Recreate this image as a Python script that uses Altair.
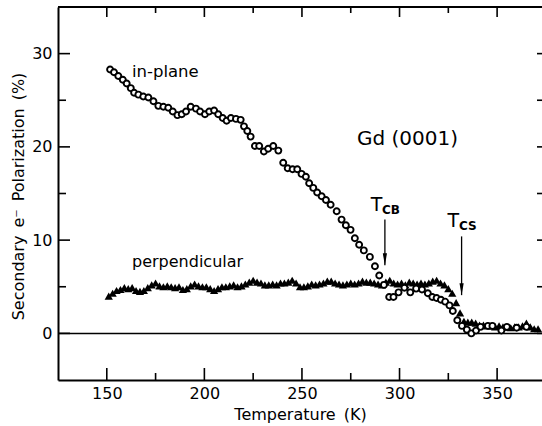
import altair as alt
import pandas as pd

# Secondary-electron polarization of Gd(0001), in-plane component (open circles)
inplane_temp = [151.7, 153.7, 155.9, 158.2, 160.2, 162.3, 164.0, 166.2, 168.7, 171.3,
                173.9, 176.4, 179.0, 181.5, 183.8, 186.2, 188.4, 190.6, 193.0, 195.7,
                197.8, 200.3, 202.5, 205.0, 207.1, 209.4, 211.4, 213.6, 216.2, 218.6,
                220.3, 222.0, 223.7, 225.9, 228.1, 230.5, 232.7, 235.3, 237.9, 240.4,
                242.7, 245.2, 247.6, 249.8, 252.0, 253.7, 255.8, 257.8, 260.1, 262.3,
                264.7, 267.8, 270.3, 272.5, 274.9, 277.1, 279.3, 281.7, 284.8, 287.4,
                289.6, 292.0, 294.7, 296.9, 299.5, 302.5, 305.5, 308.5, 311.5, 314.5,
                316.8, 319.0, 321.2, 323.4, 325.6, 327.3, 329.6, 332.0, 334.5, 336.8,
                339.2, 341.5, 345.3, 347.6, 352.2, 355.0, 360.0, 365.0]
inplane_pol = [28.3, 28.0, 27.6, 27.2, 26.8, 26.3, 25.8, 25.6, 25.4, 25.3,
               24.9, 24.4, 24.3, 24.2, 23.8, 23.4, 23.5, 23.8, 24.3, 24.1,
               23.8, 23.5, 23.8, 23.9, 23.5, 23.1, 22.8, 23.1, 23.0, 22.9,
               22.2, 21.7, 21.1, 20.1, 20.1, 19.5, 19.8, 20.1, 19.6, 18.3,
               17.7, 17.6, 17.6, 17.1, 16.8, 16.1, 15.6, 15.1, 14.7, 14.3,
               13.8, 13.1, 12.2, 11.6, 11.1, 10.2, 9.5, 8.9, 8.2, 7.2,
               6.2, 5.2, 3.9, 3.9, 4.4, 4.9, 4.4, 4.8, 4.7, 4.3,
               3.9, 3.8, 3.6, 3.4, 3.0, 2.4, 1.4, 0.8, 0.4, 0.0,
               0.3, 0.7, 0.8, 0.8, 0.3, 0.7, 0.6, 0.7]

# Perpendicular component (filled triangles)
perp_temp = [151, 153, 155, 157, 159, 161, 163, 165, 167, 169, 171, 173, 175, 177, 179,
             181, 183, 185, 187, 189, 191, 193, 195, 197, 199, 201, 203, 205, 207, 209,
             211, 213, 215, 217, 219, 221, 223, 225, 227, 229, 231, 233, 235, 237, 239,
             241, 243, 245, 247, 249, 251, 253, 255, 257, 259, 261, 263, 265, 267, 269,
             271, 273, 275, 277, 279, 281, 283, 285, 287, 289, 291, 293, 295, 297, 299,
             301, 303, 305, 307, 309, 311, 313, 315, 317, 319, 321, 323, 325, 327, 329,
             331, 333, 335, 337, 339, 341, 343, 345, 347, 349, 351, 353, 355, 357, 359,
             361, 363, 365, 367, 369, 371]
perp_pol = [4.0, 4.3, 4.6, 4.7, 4.9, 4.8, 4.9, 4.6, 4.5, 4.6, 4.9, 5.2, 5.4, 5.1, 5.0,
            5.1, 5.0, 4.9, 5.0, 4.7, 4.8, 5.1, 5.3, 5.1, 5.0, 5.0, 4.8, 4.6, 4.8, 5.0,
            5.0, 5.1, 5.2, 5.0, 5.1, 5.3, 5.5, 5.7, 5.5, 5.4, 5.2, 5.2, 5.3, 5.2, 5.4,
            5.4, 5.5, 5.7, 5.4, 5.0, 5.0, 5.1, 5.3, 5.2, 5.3, 5.4, 5.6, 5.6, 5.4, 5.3,
            5.2, 5.3, 5.4, 5.3, 5.4, 5.6, 5.5, 5.5, 5.4, 5.3, 5.2, 5.5, 5.7, 5.4, 5.3,
            5.4, 5.2, 5.5, 5.4, 5.3, 5.4, 5.3, 5.4, 5.6, 5.7, 5.4, 5.2, 4.8, 4.3, 3.3,
            2.2, 1.3, 1.2, 1.2, 1.1, 0.9, 0.9, 0.8, 0.8, 0.7, 0.8, 0.7, 0.7, 0.6, 0.7,
            0.7, 0.8, 1.1, 0.7, 0.5, 0.5]

# Axis ticks (drawn inward)
x_major = [150, 200, 250, 300, 350]
x_minor = [175, 225, 275, 325]
y_major = [0, 10, 20, 30]
y_minor = [5, 15, 25]

# Curie temperature markers: bulk (CB) and surface (CS)
tc_sub = ["CB", "CS"]
tc_temp = [292.5, 331.8]
tc_top = [12.2, 10.4]
tc_tip = [7.3, 4.1]
tc_T_temp = [288.2, 327.6]
tc_T_pol = [13.8, 12.1]
tc_sub_temp = [295.6, 335.0]
tc_sub_pol = [13.2, 11.5]

# Free text labels
note_text = ["in-plane", "perpendicular", "Gd (0001)"]
note_temp = [180.0, 191.4, 304.1]
note_pol = [28.05, 7.65, 20.8]
note_size = [16.5, 16, 20]

W, H = 484, 373
FONT = "DejaVu Sans"
SP = "\u2002"  # wide gap between words in the axis titles
xs = alt.Scale(domain=[125, 373], nice=False, zero=False)
ys = alt.Scale(domain=[-5, 35], nice=False, zero=False)

x_axis = alt.Axis(values=x_major, title=f"Temperature{SP}(K)", ticks=False, grid=False,
                  domainColor="black", domainWidth=2, labelPadding=5,
                  titleX=242, titleY=34, titleBaseline="middle", titleAlign="center")
y_axis = alt.Axis(values=y_major, title=f"Secondary{SP}e⁻{SP}Polarization{SP}(%)",
                  ticks=False, grid=False, domainColor="black", domainWidth=2,
                  labelPadding=6, titleX=-40, titleY=189, titleAngle=270,
                  titleAlign="center", titleBaseline="middle")


def X(field):
    return alt.X(field, type="quantitative", scale=xs, axis=x_axis)


def Y(field):
    return alt.Y(field, type="quantitative", scale=ys, axis=y_axis)


inplane = pd.DataFrame({"T": inplane_temp, "P": inplane_pol})
perp = pd.DataFrame({"T": perp_temp, "P": perp_pol})
tc = pd.DataFrame({"T": tc_temp, "top": tc_top, "tip": tc_tip, "sub": tc_sub,
                   "tT": tc_T_temp, "tP": tc_T_pol, "sT": tc_sub_temp, "sP": tc_sub_pol})
notes = pd.DataFrame({"T": note_temp, "P": note_pol, "text": note_text, "size": note_size})

zero_line = alt.Chart(pd.DataFrame({"P": [0]})).mark_rule(color="black", strokeWidth=1.5).encode(
    y=Y("P"), x=alt.value(0), x2=alt.value(W))

top_frame = alt.Chart(pd.DataFrame({"P": [35]})).mark_rule(color="black", strokeWidth=2).encode(
    y=Y("P"), x=alt.value(0), x2=alt.value(W))

perp_pts = alt.Chart(perp).mark_point(shape="triangle-up", filled=True, color="black",
                                      size=68, opacity=1).encode(x=X("T"), y=Y("P"))

inplane_pts = alt.Chart(inplane).mark_point(shape="circle", filled=True, fill="white",
                                            stroke="black", strokeWidth=1.9, size=36,
                                            opacity=1).encode(x=X("T"), y=Y("P"))

note_layer = alt.Chart(notes).mark_text(font=FONT, color="black", align="center",
                                        baseline="middle").encode(
    x=X("T"), y=Y("P"), text="text:N", size=alt.Size("size:Q", scale=None, legend=None))

arrow_shaft = alt.Chart(tc).mark_rule(color="black", strokeWidth=1.3).encode(
    x=X("T"), y=Y("top"), y2="tip:Q")

arrow_head = alt.Chart(tc).mark_point(shape="M-0.35,-1L0.35,-1L0,1Z", filled=True,
                                      color="black", size=144, opacity=1, yOffset=-6).encode(
    x=X("T"), y=Y("tip"))

tc_T = alt.Chart(tc).mark_text(font=FONT, fontSize=19, color="black", text="T",
                               align="center", baseline="middle").encode(x=X("tT"), y=Y("tP"))

tc_S = alt.Chart(tc).mark_text(font=FONT, fontSize=12, fontWeight="bold", color="black",
                               align="center", baseline="middle").encode(
    x=X("sT"), y=Y("sP"), text="sub:N")


def ticks_x(vals, y0, y1):
    return alt.Chart(pd.DataFrame({"T": vals})).mark_rule(color="black", strokeWidth=1.6).encode(
        x=X("T"), y=alt.value(y0), y2=alt.value(y1))


def ticks_y(vals, x0, x1):
    return alt.Chart(pd.DataFrame({"P": vals})).mark_rule(color="black", strokeWidth=1.6).encode(
        y=Y("P"), x=alt.value(x0), x2=alt.value(x1))


tick_layers = [
    ticks_x(x_major, H, H - 12), ticks_x(x_minor, H, H - 7),
    ticks_x(x_major, 0, 10), ticks_x(x_minor, 0, 6),
    ticks_y(y_major, 0, 12), ticks_y(y_minor, 0, 8),
    ticks_y(y_major + y_minor, W - 5, W),
]

chart = alt.layer(
    zero_line, top_frame, perp_pts, inplane_pts, note_layer,
    arrow_shaft, arrow_head, tc_T, tc_S, *tick_layers
).properties(
    width=W, height=H,
    autosize=alt.AutoSizeParams(type="none"),
    padding={"left": 58, "top": 7, "right": 0, "bottom": 46},
    background="white",
).configure_view(stroke=None).configure_axis(
    labelFont=FONT, labelFontSize=16, labelColor="black",
    titleFont=FONT, titleFontSize=16, titleFontWeight="normal", titleColor="black",
)

chart.save("out.html", embed_options={"renderer": "svg", "actions": False})
